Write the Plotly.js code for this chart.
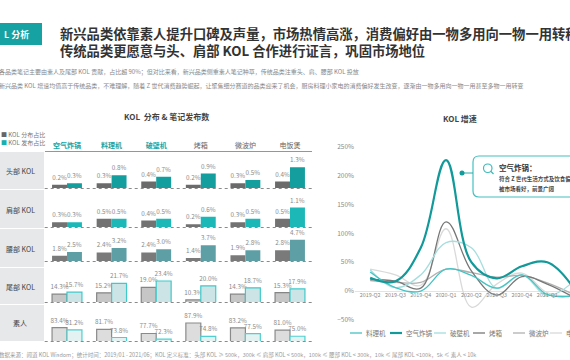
<!DOCTYPE html>
<html><head><meta charset="utf-8">
<script src="https://cdn.plot.ly/plotly-3.0.1.min.js"></script>
<style>html,body{margin:0;padding:0;background:#fff;overflow:hidden}#chart{width:570px;height:360px}</style>
</head><body><div id="chart"></div>
<script>
// ---------------- data ----------------
const categories = ['空气炸锅','料理机','破壁机','烤箱','微波炉','电饭煲'];
const tiers = ['头部 KOL','肩部 KOL','腰部 KOL','尾部 KOL','素人'];
const distTop      = [0.2, 0.3, 0.4, 0.2, 0.3, 0.4];
const pubTop       = [0.3, 0.8, 0.7, 0.9, 0.5, 1.3];
const distShoulder = [0.3, 0.5, 0.4, 0.2, 0.3, 0.5];
const pubShoulder  = [0.3, 0.5, 0.5, 0.6, 0.5, 1.1];
const distWaist    = [1.8, 2.4, 2.4, 1.4, 1.9, 2.8];
const pubWaist     = [2.5, 3.2, 3.0, 3.7, 2.8, 4.7];
const distTail     = [14.3, 15.2, 19.0, 10.3, 14.3, 15.3];
const pubTail      = [15.7, 21.7, 23.4, 20.0, 18.7, 17.9];
const distAmateur  = [83.4, 81.7, 77.7, 87.9, 83.2, 81.0];
const pubAmateur   = [81.2, 73.8, 72.3, 74.8, 77.5, 75.0];
const legendBar = ['KOL 分布占比','KOL 发布占比'];

const quarters = ['2019-Q2','2019-Q3','2019-Q4','2020-Q1','2020-Q2','2020-Q3','2020-Q4','2021-Q1','2021-Q2'];
const seriesNames = ['料理机','空气炸锅','破壁机','烤箱','微波炉','电饭煲'];
const growthBlender    = [33, 6, 0, 38, 27, 5, 28, -6, -9];
const growthAirFryer   = [23, 17, 75, 227, 50, 22, 43, 50, 8];
const growthHighSpeed  = [37, 6, 28, 84, 75, 5, 28, -8, 15];
const growthOven       = [20, 17, 5, 120, 35, -7, 25, 12, -10];
const growthMicrowave  = [18, 15, 15, 38, 32, 24, 27, 14, -5];
const growthRiceCooker = [38, 28, 10, 108, -28, 12, 31, -3, -8];

// ---------------- styles ----------------
const FONT = 'Noto Sans CJK SC, Noto Sans, sans-serif';
const P = x => x / 570, Q = y => 1 - y / 360;
const rowPx = [[152,188],[190,227],[229,261],[268,302],[305,341]];
const rowLo = [0, 0.05, 0.85, 8.9, 70.4];
const rowScale = [16, 18.5, 5.5, 1.45, 1.03];
const barStyles = [
  [{f:'#6b6b6b',l:'#6b6b6b',w:0},{f:'#149e9e',l:'#149e9e',w:0}],
  [{f:'#727272',l:'#727272',w:0},{f:'#1cb8b8',l:'#1cb8b8',w:0}],
  [{f:'#7a7a7a',l:'#7a7a7a',w:0},{f:'#5e9fa6',l:'#5e9fa6',w:0}],
  [{f:'#c6c6c6',l:'#858585',w:1.2},{f:'#cde4e6',l:'#3fc9c9',w:1.2}],
  [{f:'#dddddd',l:'#8a8a8a',w:1.2},{f:'#e4f2f2',l:'#4fcfcf',w:1.2}]
];
const lineColors = ['#45c3c3','#12999a','#a5dede','#777777','#b0b0b0','#d9d9d9'];
const lineWidths = [1.3, 2.2, 1.3, 1.3, 1.3, 1.3];

const rowData = [[distTop,pubTop],[distShoulder,pubShoulder],[distWaist,pubWaist],[distTail,pubTail],[distAmateur,pubAmateur]];

const traces = [];
const layout = {
  width:570, height:360, margin:{l:0,r:0,t:0,b:0},
  paper_bgcolor:'#fff', plot_bgcolor:'rgba(0,0,0,0)',
  showlegend:false, barmode:'group', bargap:0.33, bargroupgap:0,
  font:{family:FONT, color:'#666'},
  shapes:[], annotations:[]
};

// bar x axis (top header)
layout.xaxis = {
  domain:[P(44.7), P(312.3)], anchor:'y', side:'top', type:'category',
  range:[-0.5, 5.5], tickvals:categories, tickangle:0,
  ticktext:categories.map((c,i)=> i<3 ? '<b><span style="color:#17a5a5">'+c+'</span></b>' : '<span style="color:#666">'+c+'</span>'),
  tickfont:{size:7, family:FONT}, ticks:'', showline:true, linecolor:'#3cbcbc', linewidth:1.5,
  showgrid:false, zeroline:false, fixedrange:true
};

rowData.forEach((pair, r) => {
  const yk = r === 0 ? 'yaxis' : 'yaxis' + (r+1);
  const [top, bot] = rowPx[r];
  layout[yk] = {
    domain:[Q(bot), Q(top)], anchor:'x',
    range:[rowLo[r], rowLo[r] + (bot-top)/rowScale[r]],
    visible:false, showgrid:false, zeroline:false, fixedrange:true
  };
  pair.forEach((vals, k) => {
    const st = barStyles[r][k];
    traces.push({
      type:'bar', x:categories, y:vals, xaxis:'x', yaxis: r===0 ? 'y' : 'y'+(r+1),
      name: legendBar[k],
      marker:{color:st.f, line:{color:st.l, width:st.w}},
      text: vals.map(v => v.toFixed(1) + '%'), textposition:'outside',
      textfont:{size:6.3, color:'#8a8a8a', family:FONT},
      constraintext:'none', cliponaxis:false, hoverinfo:'skip'
    });
  });
  // dashed baseline
  layout.shapes.push({type:'line', xref:'paper', yref:'paper', x0:P(44.7), x1:P(313), y0:Q(bot+0.5), y1:Q(bot+0.5),
    line:{color:'#8a8a8a', width:1, dash:'3px,3px'}});
  // row label background
  layout.shapes.push({type:'rect', xref:'paper', yref:'paper', x0:0, x1:P(44), y0:Q(r===4?341:rowPx[r+1][0]-1), y1:Q(top),
    fillcolor:'#e7e8e9', line:{width:0}, layer:'below'});
  layout.annotations.push({xref:'paper', yref:'paper', x:P(20), y:Q((top + (r===4?341:rowPx[r+1][0]))/2), text:tiers[r],
    showarrow:false, font:{size:7, color:'#444', family:FONT}, xanchor:'center', yanchor:'middle'});
});

// line chart axes
layout.xaxis2 = {
  domain:[P(355), 1], anchor:'free', position:Q(291), type:'category',
  range:[-0.6, 7.9], tickangle:0, tickfont:{size:5.4, color:'#8a8a8a', family:FONT}, ticks:'',
  showline:false, showgrid:false, zeroline:false, fixedrange:true
};
layout.yaxis6 = {
  domain:[Q(325.6), Q(140)], anchor:'x2', range:[-60, 262], dtick:50, ticksuffix:'%',
  tickfont:{size:6.5, color:'#8a8a8a', family:FONT}, ticks:'', showgrid:false,
  zeroline:true, zerolinecolor:'#e3e3e3', zerolinewidth:1, showline:false, fixedrange:true
};
const growth = [growthBlender, growthAirFryer, growthHighSpeed, growthOven, growthMicrowave, growthRiceCooker];
const order = [5,4,3,2,0,1];
order.forEach(i => {
  traces.push({type:'scatter', mode:'lines', x:quarters, y:growth[i], xaxis:'x2', yaxis:'y6', name:seriesNames[i],
    line:{color:lineColors[i], width:lineWidths[i], shape:'spline', smoothing:1.1}, hoverinfo:'skip', cliponaxis:true});
});

// line legend (manual, single row)
const legX = [350, 390, 434, 473, 513, 550];
seriesNames.forEach((n,i) => {
  layout.shapes.push({type:'line', xref:'paper', yref:'paper', x0:P(legX[i]), x1:P(legX[i]+12), y0:Q(333), y1:Q(333),
    line:{color:lineColors[i], width:lineWidths[i]}});
  layout.annotations.push({xref:'paper', yref:'paper', x:P(legX[i]+14), y:Q(333), text:n, showarrow:false,
    xanchor:'left', yanchor:'middle', font:{size:6.5, color:'#777', family:FONT}});
});

// header box
layout.shapes.push({type:'rect', xref:'paper', yref:'paper', x0:-0.01, x1:P(42), y0:Q(45), y1:Q(23), fillcolor:'#16a2a2', line:{width:0}});
const ann = (x,y,text,size,color,anchor) => layout.annotations.push({xref:'paper', yref:'paper', x:P(x), y:Q(y), text:text,
  showarrow:false, xanchor:anchor||'left', yanchor:'middle', font:{size:size, color:color, family:FONT}});
ann(2, 34, '<b>L 分析</b>', 9, '#ffffff');
ann(58, 33, '<b>新兴品类依靠素人提升口碑及声量，市场热情高涨，消费偏好由一物多用向一物一用转移</b>', 13.3, '#333');
ann(58, 51, '<b>传统品类更愿意与头、肩部 KOL 合作进行证言，巩固市场地位</b>', 13.3, '#333');
ann(-3, 72, '各品类笔记主要由素人及尾部 KOL 贡献，占比超 90%；但对比来看，新兴品类侧重素人笔记种草，传统品类注重头、肩、腰部 KOL 投放', 6, '#888');
ann(-3, 85, '新兴品类 KOL 增速均值高于传统品类，不难理解，随着 Z 世代消费趋势崛起，让聚焦细分赛道的品类迎来了机会，厨房料理小家电的消费偏好发生改变，逐渐由一物多用向一物一用甚至多物一用转变', 6, '#888');
ann(-3, 355, '数据来源：闻道 KOL Wisdom；统计时间：2019/01 - 2021/06；KOL 定义标准：头部 KOL ≥ 500k，300k ≤ 肩部 KOL < 500k，100k ≤ 腰部 KOL < 300k，10k ≤ 尾部 KOL <100k，5k ≤ 素人 < 10k', 5.5, '#999');
ann(166, 117, '<b>KOL  分布 & 笔记发布数</b>', 8, '#444', 'center');
ann(460, 119, '<b>KOL 增速</b>', 8, '#444', 'center');
ann(-1, 134, '<span style="color:#666">■</span> ' + legendBar[0], 6, '#777');
ann(-1, 143, '<span style="color:#17b0b0">■</span> ' + legendBar[1], 6, '#777');

// callout
const r = 6, bx0 = 473, bx1 = 585, by0 = 156, by1 = 197;
layout.shapes.push({type:'path', xref:'paper', yref:'paper',
  path:`M${P(bx0+r)},${Q(by0)} L${P(bx1)},${Q(by0)} L${P(bx1)},${Q(by1)} L${P(bx0+r)},${Q(by1)} Q${P(bx0)},${Q(by1)} ${P(bx0)},${Q(by1-r)} L${P(bx0)},${Q(by0+r)} Q${P(bx0)},${Q(by0)} ${P(bx0+r)},${Q(by0)} Z`,
  fillcolor:'#ffffff', line:{color:'#45c0c0', width:1.2}});
layout.shapes.push({type:'line', xref:'paper', yref:'paper', x0:P(462), x1:P(473), y0:Q(173), y1:Q(173), line:{color:'#2aa8a8', width:1}});
layout.shapes.push({type:'circle', xref:'paper', yref:'paper', x0:P(459.5), x1:P(464.5), y0:Q(175.5), y1:Q(170.5), fillcolor:'#139a9a', line:{width:0}});
layout.shapes.push({type:'circle', xref:'paper', yref:'paper', x0:P(483.5), x1:P(492), y0:Q(172.5), y1:Q(164), line:{color:'#3cbcbc', width:1.2}});
layout.shapes.push({type:'line', xref:'paper', yref:'paper', x0:P(490.5), x1:P(493.5), y0:Q(171), y1:Q(174), line:{color:'#3cbcbc', width:1.2}});
ann(497, 167, '<b>空气炸锅：</b>', 7.5, '#333');
ann(497, 179, '<b>符合 Z 世代生活方式及饮食偏好，</b>', 5.5, '#444');
ann(497, 189, '<b>被市场看好，前景广阔</b>', 5.5, '#444');

Plotly.newPlot('chart', traces, layout, {staticPlot:true, displayModeBar:false});
</script></body></html>
